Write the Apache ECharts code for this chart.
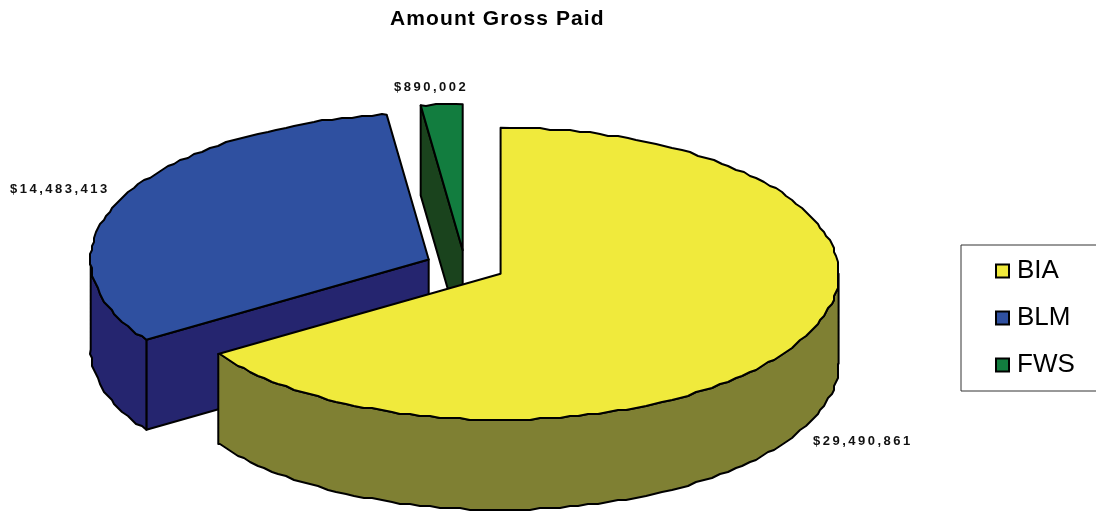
<!DOCTYPE html>
<html>
<head>
<meta charset="utf-8">
<style>html,body{margin:0;padding:0;background:#fff}#chart{width:1096px;height:512px}</style>
<script src="https://cdn.jsdelivr.net/npm/echarts@6/dist/echarts.min.js"></script>
</head>
<body>
<div id="chart"></div>
<script>
// Amounts paid per bureau
const categories = ['BIA', 'BLM', 'FWS'];
const amounts = [29490861, 14483413, 890002];
const topColors = ['#F0EA3C', '#2F50A0', '#127D3F'];
const sideColors = ['#7F8033', '#25256F', '#1A431D'];

// Projection of the tilted pie
const CENTER = [465.2, 266.2];
const RX = 338, RY = 146, DEPTH = 90;
const EXPLODE_X = 40.2, EXPLODE_Y = 16;
const GRID = 2, STEP_DEG = 1.7;
const FONT = '"Liberation Sans", Arial, sans-serif';

const total = amounts.reduce((a, b) => a + b, 0);
const rad = d => d * Math.PI / 180;

// Slices run clockwise from twelve o'clock; each is pushed out along its middle angle
let running = 0;
const wedges = amounts.map(v => {
  const start = running / total * 360;
  running += v;
  const end = running / total * 360;
  const mid = rad((start + end) / 2);
  return {
    start, end,
    cx: CENTER[0] + EXPLODE_X * Math.sin(mid),
    cy: CENTER[1] - EXPLODE_Y * Math.cos(mid)
  };
});

// Arc outline snapped to a coarse grid, which gives the rim its stepped look.
// Samples fall on shared multiples of the step, so the wall and the top agree.
function rim(w, from, to, drop) {
  const exact = deg => [w.cx + RX * Math.sin(rad(deg)), w.cy - RY * Math.cos(rad(deg)) + drop];
  const pts = [exact(from)];
  for (let k = Math.floor(from / STEP_DEG) + 1; k * STEP_DEG < to; k++) {
    const p = exact(k * STEP_DEG);
    pts.push([Math.round(p[0] / GRID) * GRID, Math.round((p[1] - drop) / GRID) * GRID + drop]);
  }
  pts.push(exact(to));
  return pts;
}

function face(points, fill) {
  return {
    type: 'polygon',
    shape: { points },
    style: { fill, stroke: '#000', lineWidth: 2, lineJoin: 'round' }
  };
}

function cutFace(w, angle, fill) {
  const a = rad(angle);
  const x = w.cx + RX * Math.sin(a), y = w.cy - RY * Math.cos(a);
  return face([[w.cx, w.cy], [x, y], [x, y + DEPTH], [w.cx, w.cy + DEPTH]], fill);
}

function drawWedge(i) {
  const w = wedges[i];
  const children = [];
  // A cut face shows only when it turns toward the viewer
  if (Math.sin(rad(w.start)) < -1e-6) children.push(cutFace(w, w.start, sideColors[i]));
  if (Math.sin(rad(w.end)) > 1e-6) children.push(cutFace(w, w.end, sideColors[i]));
  // Outer wall only where the rim faces the viewer
  const wallFrom = Math.max(w.start, 90), wallTo = Math.min(w.end, 270);
  if (wallTo > wallFrom) {
    const upper = rim(w, wallFrom, wallTo, 0);
    const lower = rim(w, wallFrom, wallTo, DEPTH);
    children.push(face(upper.concat(lower.reverse()), sideColors[i]));
  }
  children.push(face([[w.cx, w.cy]].concat(rim(w, w.start, w.end, 0)), topColors[i]));
  return { type: 'group', children };
}

// Value labels sit just outside the rim
const labelSpots = [[813, 441], [10, 189], [394, 87]];
const money = v => '$' + v.toLocaleString('en-US');

const chart = echarts.init(document.getElementById('chart'));

// Text on these layers is tracked wider than the canvas default
const painter = chart.getZr().painter;
painter.getLayer(5).ctx.letterSpacing = '2.5px';
painter.getLayer(6).ctx.letterSpacing = '1.1px';

// Back-to-front: FWS, BLM, BIA
const wedgeSeries = [2, 1, 0].map(i => ({
  type: 'custom',
  name: categories[i],
  coordinateSystem: 'none',
  silent: true,
  animation: false,
  itemStyle: { color: topColors[i] },
  data: [[amounts[i]]],
  renderItem: () => drawWedge(i)
}));

const labelSeries = {
  type: 'custom',
  name: 'labels',
  coordinateSystem: 'none',
  silent: true,
  animation: false,
  zlevel: 5,
  data: amounts.map(v => [v]),
  renderItem: (params, api) => ({
    type: 'text',
    style: {
      text: money(api.value(0)),
      x: labelSpots[params.dataIndex][0],
      y: labelSpots[params.dataIndex][1],
      fontFamily: FONT,
      fontSize: 13,
      fontWeight: 'bold',
      fill: '#111',
      align: 'left',
      verticalAlign: 'middle'
    }
  })
};

chart.setOption({
  animation: false,
  backgroundColor: '#fff',
  title: {
    text: 'Amount Gross Paid',
    left: 385,
    top: 4,
    zlevel: 6,
    textStyle: { fontFamily: FONT, fontSize: 21, fontWeight: 'bold', color: '#000' }
  },
  legend: {
    data: categories,
    orient: 'vertical',
    left: 961,
    top: 245,
    padding: [13, 30, 13, 34],
    itemGap: 21,
    itemWidth: 13,
    itemHeight: 13,
    icon: 'rect',
    selectedMode: false,
    backgroundColor: '#fff',
    borderColor: '#333',
    borderWidth: 1,
    itemStyle: { borderColor: '#000', borderWidth: 2 },
    textStyle: { fontFamily: FONT, fontSize: 26, color: '#000', padding: [0, 0, 0, 3] }
  },
  series: wedgeSeries.concat(labelSeries)
});
</script>
</body>
</html>
